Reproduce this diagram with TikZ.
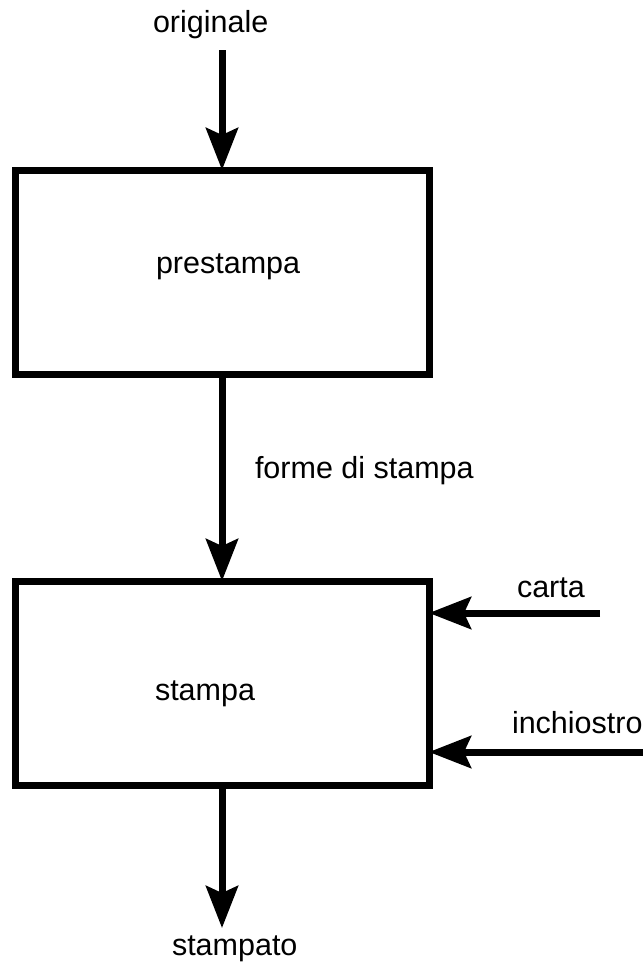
\documentclass[tikz,border=0pt]{standalone}
\usepackage{fontspec}
\setmainfont{Liberation Sans}
\usetikzlibrary{arrows.meta}
\begin{document}
\begin{tikzpicture}[x=1pt,y=-1pt,
  box/.style={draw, line width=7pt, rectangle, minimum width=414pt,
    minimum height=204pt, outer sep=0pt, inner sep=0pt},
  lbl/.style={anchor=base west, inner sep=0pt, outer sep=0pt,
    font=\fontsize{30.5}{36}\selectfont},
  arr/.style={line width=7pt,
    -{Stealth[length=42pt, width=32pt, inset=7pt]}}]
  \useasboundingbox (0,0) rectangle (643,962);

  % process boxes
  \node[box] (pre) at (222,272) {};
  \node[box] (sta) at (222,683) {};

  % labels
  \node[lbl] (orig)  at (153,32)  {originale};
  \node[lbl] (preL)  at (156,273) {prestampa};
  \node[lbl] (forme) at (255,478) {forme di stampa};
  \node[lbl] (staL)  at (155,700) {stampa};
  \node[lbl] (carta) at (517,597) {carta};
  \node[lbl] (ink)   at (512,733) {inchiostro};
  \node[lbl] (out)   at (172,955) {stampato};

  % free ends of the connectors
  \coordinate (origIn) at (222,50);
  \coordinate (cartaIn) at (600,613);
  \coordinate (inkIn) at (650,752);
  \coordinate (outEnd) at (222,928);

  % flow
  \draw[arr] (origIn) -- (pre.north);
  \draw[arr] (pre.south) -- (sta.north);
  \draw[arr] (cartaIn) -- (sta.east |- cartaIn);
  \draw[arr] (inkIn) -- (sta.east |- inkIn);
  \draw[arr] (sta.south) -- (outEnd);
\end{tikzpicture}
\end{document}
